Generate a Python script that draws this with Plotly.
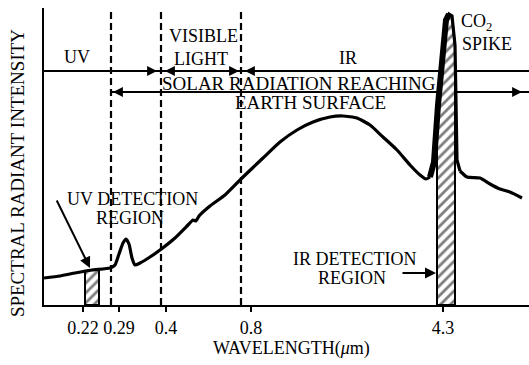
import numpy as np
import plotly.graph_objects as go

# ---- data (x = position along drawn wavelength axis, y = relative intensity) ----
curve_pos = [0, 16, 31, 48, 66, 71, 75, 79, 82, 85, 88, 91, 96, 106, 116, 131, 144, 149, 152, 155,
             166, 181, 198, 219, 236, 253, 269, 286, 299, 313, 326, 339, 353, 366, 376, 382, 386,
             390, 394, 398, 402, 405, 408, 411, 412, 413, 416, 423, 436, 446, 456, 466, 478]
curve_int = [27, 29, 32, 35, 37, 40, 51, 62, 66, 61, 47, 40, 42, 48, 55, 67, 80, 85, 84, 89,
             99, 110, 127, 147, 163, 175, 183, 188, 189, 187, 180, 168, 155, 140, 130, 126, 128,
             143, 200, 240, 285, 291, 289, 260, 205, 145, 134, 128, 127, 121, 116, 113, 107]

tick_pos = [39, 75, 122, 207, 399]
tick_labels = ["0.22", "0.29", "0.4", "0.8", "4.3"]

boundary_pos = [67, 117, 197]          # dashed lines at 0.29, 0.4, 0.8 um
uv_band = [41, 55]                      # UV detection region
ir_band = [393, 411]                    # IR detection region
spike_range = [386, 416]                # CO2 spike (drawn with straight segments)

band_line_y = 234                       # UV / VISIBLE / IR band line
solar_line_y = 213                      # solar radiation line
solar_start = 67

X_MAX, Y_MAX = 485, 297
FONT = "Liberation Serif"

cp = np.array(curve_pos, float)
ci = np.array(curve_int, float)


def band_polygon(band):
    lo, hi = band
    inner = [(x, y) for x, y in zip(cp, ci) if lo < x < hi]
    xs = [lo, lo] + [p[0] for p in inner] + [hi, hi, lo]
    ys = [0, np.interp(lo, cp, ci)] + [p[1] for p in inner] + [np.interp(hi, cp, ci), 0, 0]
    return xs, ys


fig = go.Figure()

# dashed boundaries
for bx in boundary_pos:
    fig.add_trace(go.Scatter(x=[bx, bx], y=[0, Y_MAX], mode="lines",
                             line=dict(color="black", width=2.2, dash="7px,4px"),
                             hoverinfo="skip"))

# band lines
fig.add_trace(go.Scatter(x=[0, X_MAX], y=[band_line_y, band_line_y], mode="lines",
                         line=dict(color="black", width=2), hoverinfo="skip"))
fig.add_trace(go.Scatter(x=[solar_start, X_MAX], y=[solar_line_y, solar_line_y], mode="lines",
                         line=dict(color="black", width=2), hoverinfo="skip"))

# hatched detection regions
for band in (uv_band, ir_band):
    xs, ys = band_polygon(band)
    fig.add_trace(go.Scatter(x=xs, y=ys, mode="lines", fill="toself",
                             fillcolor="white",
                             fillpattern=dict(shape="/", fgcolor="black", bgcolor="white",
                                              size=7, solidity=0.4),
                             line=dict(color="black", width=2), hoverinfo="skip"))

# spectrum curve: smooth parts + straight spike
left = cp <= spike_range[0]
mid = (cp >= spike_range[0]) & (cp <= spike_range[1])
right = cp >= spike_range[1]
for m, shape in ((left, "spline"), (right, "spline"), (mid, "linear")):
    fig.add_trace(go.Scatter(x=cp[m], y=ci[m], mode="lines",
                             line=dict(color="black", width=3.2, shape=shape, smoothing=0.5),
                             hoverinfo="skip"))
# heavier left flank of the spike
flank = (cp >= 386) & (cp <= 405)
fig.add_trace(go.Scatter(x=cp[flank], y=ci[flank], mode="lines",
                         line=dict(color="black", width=6), hoverinfo="skip"))

ann = []


def txt(x, y, s, size=18, xref="x", yref="y"):
    ann.append(dict(x=x, y=y, xref=xref, yref=yref, text=s, showarrow=False,
                    font=dict(family=FONT, size=size, color="black"),
                    xanchor="center", yanchor="middle"))


txt(33, 248, "UV")
txt(159, 269, "VISIBLE")
txt(157, 246, "LIGHT")
txt(304, 247, "IR")
txt(255, 222, "SOLAR RADIATION REACHING", 19)
txt(266, 203, "EARTH SURFACE", 19)
txt(432, 283, "CO<sub>2</sub>")
txt(443, 261, "SPIKE")
txt(88, 106, "UV DETECTION")
txt(86, 87, "REGION")
txt(310, 46, "IR DETECTION")
txt(308, 27, "REGION")
txt(247, -0.148, "WAVELENGTH(<i>μ</i>m)", 18, "x", "paper")
ann.append(dict(x=-0.0557, y=0.444, xref="paper", yref="paper",
                text="SPECTRAL RADIANT INTENSITY", textangle=-90, showarrow=False,
                font=dict(family=FONT, size=19, color="black"),
                xanchor="center", yanchor="middle"))


def arrow(tip, tail, width=1.8, size=1.1):
    ann.append(dict(x=tip[0], y=tip[1], ax=tail[0], ay=tail[1], xref="x", yref="y",
                    axref="x", ayref="y", text="", showarrow=True, arrowhead=2,
                    arrowsize=size, arrowwidth=width, arrowcolor="black", standoff=0))


arrow((113, band_line_y), (95, band_line_y))
arrow((121, band_line_y), (139, band_line_y))
arrow((195, band_line_y), (177, band_line_y))
arrow((201, band_line_y), (219, band_line_y))
arrow((69, solar_line_y), (89, solar_line_y))
arrow((478, solar_line_y), (455, solar_line_y))
arrow((46, 37), (12, 106), 2, 1.1)
arrow((392, 32), (357, 32), 2, 1.1)

fig.update_layout(
    width=529, height=365,
    margin=dict(l=44, r=0, t=8, b=60),
    paper_bgcolor="white", plot_bgcolor="white",
    showlegend=False,
    annotations=ann,
    font=dict(family=FONT, color="black"),
    xaxis=dict(range=[0, X_MAX], showgrid=False, zeroline=False, showline=True,
               automargin=False,
               linecolor="black", linewidth=2.4, ticks="outside", ticklen=5, tickwidth=2,
               tickcolor="black", tickvals=tick_pos, ticktext=tick_labels,
               tickfont=dict(family=FONT, size=18, color="black")),
    yaxis=dict(range=[0, Y_MAX], showgrid=False, zeroline=False, showline=True,
               automargin=False,
               linecolor="black", linewidth=2.4, ticks="", showticklabels=False),
)

# remove the browser's default 8px body margin so the figure fills the window
fig.write_html("out.html",
               config={"displayModeBar": False, "staticPlot": True},
               post_script="document.body.style.margin='0';document.body.style.padding='0';")
